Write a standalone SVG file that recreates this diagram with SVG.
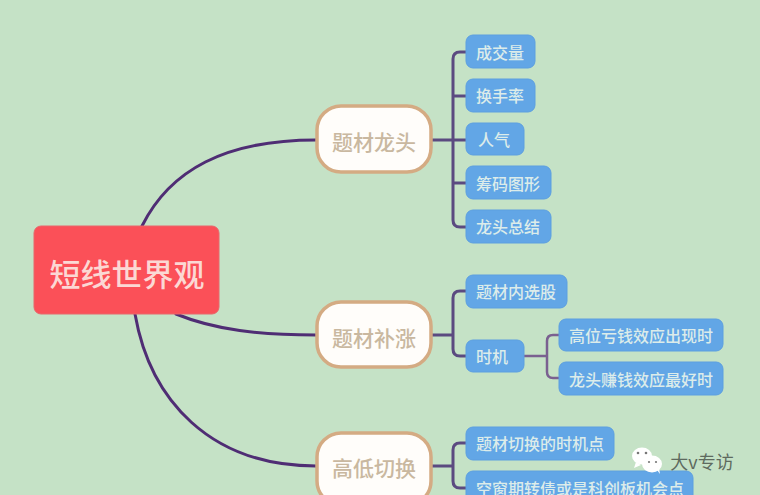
<svg xmlns="http://www.w3.org/2000/svg" width="760" height="495" viewBox="0 0 760 495">
<style>
text{font-family:"Noto Sans CJK SC","Liberation Sans",sans-serif;text-anchor:middle;dominant-baseline:central}
.leaf rect{fill:#62a6e6;stroke:#5c9fe0;stroke-width:1}
.leaf text{fill:#dcecea;font-size:16px;font-weight:500}
.sub rect{fill:#fffdfa;stroke:#d4ab83;stroke-width:3.5}
.sub text{fill:#c9b8a0;font-size:21px;font-weight:500}
.c{fill:none;stroke:#4f2d74;stroke-width:3;stroke-linecap:round}
.d{fill:none;stroke:#5b4a80;stroke-width:3}
.e{fill:none;stroke:#7a6090;stroke-width:2.5}
</style>
<rect width="760" height="495" fill="#c5e2c6"/>
<g id="connectors">
<path class="c" d="M142 226C170 170 225 140 316 140"/>
<path class="c" d="M176 314C215 330 260 335 316 335"/>
<path class="c" d="M135 314C150 400 210 466 316 466"/>
<path class="d" d="M431 140H453M466 52H460Q453 52 453 59V220Q453 227 460 227H466M453 96H466M453 140H466M453 183H466"/>
<path class="d" d="M431 335H453M466 291H460Q453 291 453 298V349Q453 356 460 356H466"/>
<path class="e" d="M524 356H547M559 335H553Q547 335 547 341V372Q547 378 553 378H559"/>
<path class="d" d="M431 466H453M466 443H460Q453 443 453 450V481Q453 488 460 488H466"/>
</g>
<g id="root"><rect x="34" y="226" width="185" height="88" rx="7" fill="#fb5058" stroke="#e8666a" stroke-width="1"/><text x="127" y="272" font-size="31" font-weight="500" fill="#fbd8d4">短线世界观</text></g>
<g id="n1" class="sub"><rect x="317" y="106" width="114" height="66" rx="24"/><text x="374" y="141">题材龙头</text></g>
<g id="n2" class="sub"><rect x="317" y="302" width="114" height="65" rx="24"/><text x="374" y="337">题材补涨</text></g>
<g id="n3" class="sub"><rect x="317" y="433" width="114" height="72" rx="24"/><text x="374" y="467">高低切换</text></g>
<g id="l1" class="leaf"><rect x="466" y="35" width="69" height="33" rx="7"/><text x="500" y="52">成交量</text></g>
<g id="l2" class="leaf"><rect x="466" y="79" width="69" height="33" rx="7"/><text x="500" y="95">换手率</text></g>
<g id="l3" class="leaf"><rect x="466" y="123" width="58" height="32" rx="7"/><text x="494" y="139">人气</text></g>
<g id="l4" class="leaf"><rect x="466" y="166" width="85" height="33" rx="7"/><text x="508" y="183">筹码图形</text></g>
<g id="l5" class="leaf"><rect x="466" y="210" width="85" height="33" rx="7"/><text x="508" y="226">龙头总结</text></g>
<g id="l6" class="leaf"><rect x="466" y="275" width="101" height="33" rx="7"/><text x="516" y="291">题材内选股</text></g>
<g id="l7" class="leaf"><rect x="466" y="340" width="58" height="32" rx="7"/><text x="492" y="356">时机</text></g>
<g id="l8" class="leaf"><rect x="559" y="319" width="164" height="32" rx="7"/><text x="641" y="335">高位亏钱效应出现时</text></g>
<g id="l9" class="leaf"><rect x="559" y="362" width="164" height="33" rx="7"/><text x="641" y="379">龙头赚钱效应最好时</text></g>
<g id="l10" class="leaf"><rect x="466" y="427" width="148" height="33" rx="7"/><text x="540" y="443">题材切换的时机点</text></g>
<g id="l11" class="leaf"><rect x="466" y="471" width="227" height="40" rx="7"/><text x="580" y="488">空窗期转债或是科创板机会点</text></g>
<g id="watermark"><ellipse cx="642" cy="456" rx="10" ry="8.5" fill="#fff"/><ellipse cx="652" cy="464" rx="10" ry="8.5" fill="#fff"/><path d="M636 462l-2 6 7-3zM657 470l3 4-1-6z" fill="#fff"/><circle cx="638" cy="453" r="1.3" fill="#777"/><circle cx="646" cy="453" r="1.3" fill="#777"/><circle cx="649" cy="462" r="1.1" fill="#777"/><circle cx="656" cy="462" r="1.1" fill="#777"/><text x="702" y="461" font-size="18" fill="#5e6a5e">大v专访</text></g>
</svg>
